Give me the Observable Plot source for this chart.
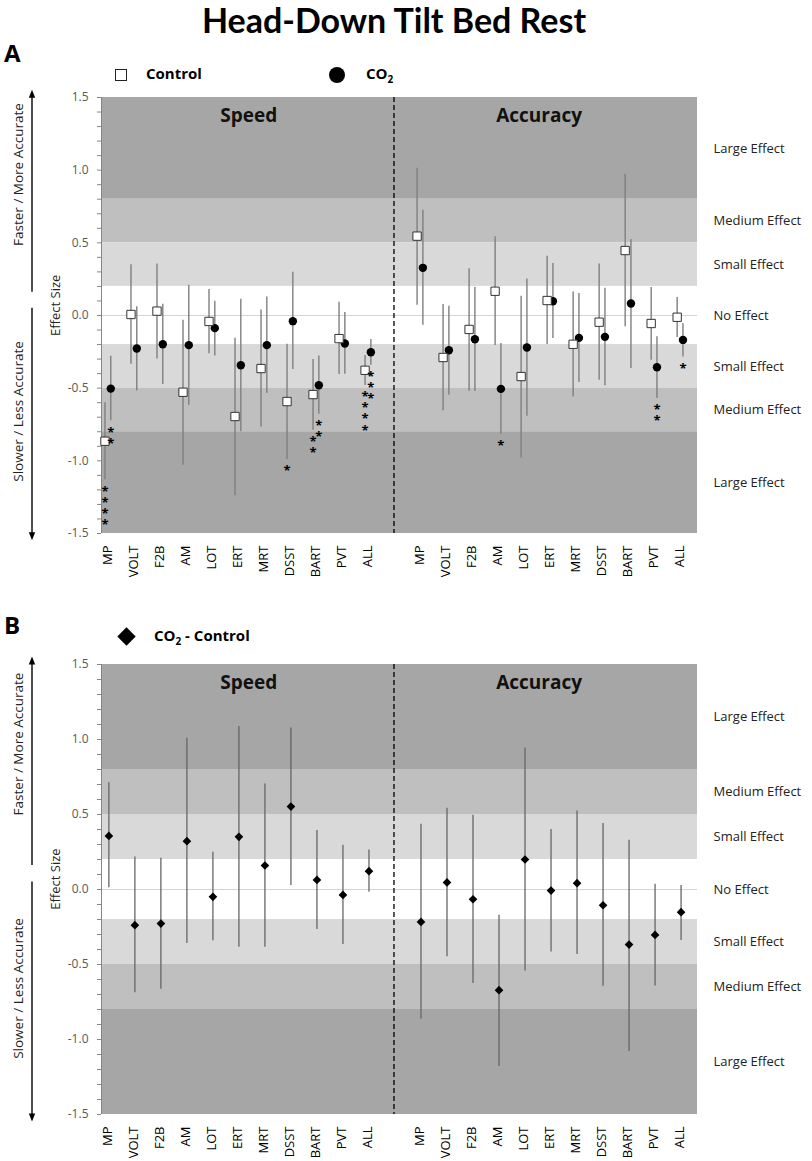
<!DOCTYPE html>
<html><head><meta charset="utf-8">
<script src="https://cdn.jsdelivr.net/npm/d3@7"></script>
<script src="https://cdn.jsdelivr.net/npm/@observablehq/plot@0.6"></script>
<style>
body{margin:0;background:#fff;font-family:"Open Sans",sans-serif;color:#000;}
#wrap{position:relative;width:812px;height:1161px;overflow:hidden;}
.abs{position:absolute;white-space:nowrap;line-height:1;}
.panel{position:absolute;left:0;}
.title{left:-12px;width:812px;text-align:center;top:3px;font-family:Lato,sans-serif;font-weight:700;font-size:34px;}
.letter{font-family:"Open Sans",sans-serif;font-weight:700;font-size:24px;}
.leg{font-weight:700;font-size:15px;}
</style></head><body><div id="wrap">
<div class="abs title">Head-Down Tilt Bed Rest</div>
<div class="abs letter" style="left:4px;top:41px">A</div>
<div class="abs letter" style="left:4px;top:613px">B</div>
<div class="abs" style="left:115px;top:69px;width:10px;height:10px;border:1.3px solid #222;background:#fff"></div>
<div class="abs leg" style="left:146px;top:66px">Control</div>
<div class="abs" style="left:329px;top:67px;width:16px;height:16px;border-radius:50%;background:#000"></div>
<div class="abs leg" style="left:366px;top:66px">CO<sub style="font-size:10px">2</sub></div>
<div class="abs" style="left:120px;top:630px;width:13px;height:13px;background:#000;transform:rotate(45deg)"></div>
<div class="abs leg" style="left:154px;top:628px">CO<sub style="font-size:10px">2</sub> - Control</div>
</div>
<script>
// ---- categories ----
const tests = ["MP","VOLT","F2B","AM","LOT","ERT","MRT","DSST","BART","PVT","ALL"];
const sections = ["Speed","Accuracy"];
const accOffset = 12; // accuracy categories start after one empty slot

// ---- effect-size bands ----
const bandFrom = [1.5, 0.8, 0.5, 0.2, -0.2, -0.5, -0.8];
const bandTo   = [0.8, 0.5, 0.2, -0.2, -0.5, -0.8, -1.5];
const bandLabels = ["Large Effect","Medium Effect","Small Effect","No Effect","Small Effect","Medium Effect","Large Effect"];
const bandLevel  = ["large","medium","small","none","small","medium","large"];

// ---- axis ticks ----
const yTicks = [-1.5, -1.0, -0.5, 0.0, 0.5, 1.0, 1.5];
const yMinorTicks = d3.range(-15, 16).map(d => d / 10);

// ---- Panel A: Control (speed) ----
const ctrlSpeedMean = [-0.865, 0.007, 0.03, -0.528, -0.041, -0.695, -0.365, -0.592, -0.544, -0.159, -0.377];
const ctrlSpeedHi   = [-0.60, 0.35, 0.355, -0.032, 0.179, -0.156, 0.037, -0.198, -0.303, 0.092, -0.275];
const ctrlSpeedLo   = [-1.13, -0.335, -0.30, -1.03, -0.264, -1.24, -0.767, -0.99, -0.79, -0.406, -0.482];
const ctrlSpeedStars = [4, 0, 0, 0, 0, 0, 0, 1, 2, 0, 4];
// ---- Panel A: CO2 (speed) ----
const co2SpeedMean = [-0.503, -0.227, -0.198, -0.204, -0.087, -0.342, -0.204, -0.039, -0.48, -0.193, -0.253];
const co2SpeedHi   = [-0.28, 0.06, 0.078, 0.208, 0.098, 0.112, 0.128, 0.298, -0.278, 0.021, -0.165];
const co2SpeedLo   = [-0.725, -0.52, -0.475, -0.62, -0.278, -0.80, -0.537, -0.372, -0.68, -0.404, -0.342];
const co2SpeedStars = [2, 0, 0, 0, 0, 0, 0, 0, 2, 0, 3];
// ---- Panel A: Control (accuracy) ----
const ctrlAccMean = [0.546, -0.289, -0.096, 0.167, -0.42, 0.103, -0.198, -0.046, 0.447, -0.055, -0.012];
const ctrlAccHi   = [1.014, 0.076, 0.321, 0.541, 0.133, 0.408, 0.162, 0.355, 0.97, 0.193, 0.124];
const ctrlAccLo   = [0.071, -0.656, -0.521, -0.207, -0.98, -0.2, -0.56, -0.445, -0.078, -0.308, -0.151];
const ctrlAccStars = [0, 0, 0, 0, 0, 0, 0, 0, 0, 0, 0];
// ---- Panel A: CO2 (accuracy) ----
const co2AccMean = [0.328, -0.239, -0.163, -0.505, -0.22, 0.098, -0.154, -0.147, 0.083, -0.356, -0.168];
const co2AccHi   = [0.725, 0.064, 0.193, -0.193, 0.252, 0.358, 0.151, 0.188, 0.523, -0.147, -0.055];
const co2AccLo   = [-0.067, -0.548, -0.523, -0.817, -0.693, -0.158, -0.461, -0.484, -0.365, -0.571, -0.285];
const co2AccStars = [0, 0, 0, 1, 0, 0, 0, 0, 0, 2, 1];

// ---- Panel B: CO2 - Control ----
const diffSpeedMean = [0.357, -0.238, -0.227, 0.322, -0.049, 0.351, 0.16, 0.553, 0.064, -0.036, 0.122];
const diffSpeedHi   = [0.711, 0.217, 0.209, 1.009, 0.249, 1.087, 0.704, 1.077, 0.393, 0.295, 0.264];
const diffSpeedLo   = [0.011, -0.689, -0.665, -0.36, -0.342, -0.385, -0.385, 0.027, -0.267, -0.367, -0.018];
const diffAccMean = [-0.216, 0.047, -0.065, -0.671, 0.2, -0.007, 0.042, -0.105, -0.367, -0.303, -0.151];
const diffAccHi   = [0.435, 0.542, 0.495, -0.171, 0.944, 0.4, 0.524, 0.44, 0.329, 0.035, 0.027];
const diffAccLo   = [-0.865, -0.449, -0.627, -1.18, -0.543, -0.416, -0.434, -0.645, -1.08, -0.643, -0.34];

// ---- side annotations ----
const sideArrows = [{from: 0.16, to: 1.55}, {from: 0.05, to: -1.55}];
const sideTexts = [{text: "Faster / More Accurate", y: 0.97}, {text: "Slower / Less Accurate", y: -0.66}];

// ---- build tables ----
function rows(mean, lo, hi, stars, offset) {
  return mean.map((m, i) => ({x: i + offset, test: tests[i], m, lo: lo[i], hi: hi[i], stars: stars ? stars[i] : 0}));
}
const ctrlRows = [...rows(ctrlSpeedMean, ctrlSpeedLo, ctrlSpeedHi, ctrlSpeedStars, 0), ...rows(ctrlAccMean, ctrlAccLo, ctrlAccHi, ctrlAccStars, accOffset)];
const co2Rows = [...rows(co2SpeedMean, co2SpeedLo, co2SpeedHi, co2SpeedStars, 0), ...rows(co2AccMean, co2AccLo, co2AccHi, co2AccStars, accOffset)];
const diffRows = [...rows(diffSpeedMean, diffSpeedLo, diffSpeedHi, null, 0), ...rows(diffAccMean, diffAccLo, diffAccHi, null, accOffset)];
const bands = bandFrom.map((f, i) => ({from: f, to: bandTo[i], label: bandLabels[i], level: bandLevel[i], mid: (f + bandTo[i]) / 2}));
const tickPos = [...tests.map((t, i) => i), ...tests.map((t, i) => i + accOffset)];
const tickName = new Map([...tests.map((t, i) => [i, t]), ...tests.map((t, i) => [i + accOffset, t])]);
const divider = tests.length; // dashed line at the empty slot
const sectionRows = sections.map((s, i) => ({name: s, side: i === 0 ? -1 : 1}));

const OFF = 2.9;
const xDomain = [-0.245, 22.67];

function arrowMark(index, scales, values, dims) {
  const g = d3.create("svg:g");
  const x = dims.marginLeft - 69;
  for (const a of sideArrows) {
    const y1 = scales.y(a.from), y2 = scales.y(a.to);
    const dir = Math.sign(y2 - y1);
    g.append("line").attr("x1", x).attr("x2", x).attr("y1", y1).attr("y2", y2 - dir * 5)
      .attr("stroke", "#000").attr("stroke-width", 1.4);
    g.append("path").attr("fill", "#000")
      .attr("d", `M${x},${y2}L${x - 3.2},${y2 - dir * 8}L${x + 3.2},${y2 - dir * 8}Z`);
  }
  return g.node();
}

// one stacked text per significant point: "*" repeated on separate lines below the whisker
function starMark(data, dx) {
  return Plot.text(data.filter(d => d.stars > 0), {
    x: "x", y: "lo", dx, dy: 8, text: d => Array(d.stars).fill("*").join("\n"),
    lineAnchor: "top", lineHeight: 0.85, fontSize: 13, fontWeight: 700, fill: "#000"
  });
}

function makePanel(height, marginTop, marginBottom, dataMarks) {
  return Plot.plot({
    width: 812, height, marginLeft: 101, marginRight: 115, marginTop, marginBottom,
    style: {fontFamily: "'Open Sans', sans-serif", fontSize: "12px", background: "transparent", overflow: "visible"},
    x: {type: "linear", domain: xDomain, label: null},
    y: {domain: [-1.5, 1.5], label: null},
    color: {domain: ["large", "medium", "small", "none"], range: ["#a6a6a6", "#bfbfbf", "#d9d9d9", "#ffffff"]},
    marks: [
      Plot.rect(bands, {y1: "from", y2: "to", fill: "level"}),
      Plot.ruleY([0], {stroke: "#d4d4d4", strokeWidth: 1}),
      Plot.ruleX([divider], {stroke: "#000", strokeWidth: 1.3, strokeDasharray: "5,3"}),
      Plot.ruleX([xDomain[0]], {stroke: "#868686", strokeWidth: 1}),
      Plot.axisY(yMinorTicks, {tickSize: 4, tickFormat: () => "", stroke: "#868686", label: null}),
      Plot.axisY(yTicks, {tickSize: 0, tickPadding: 13, tickFormat: d => d.toFixed(1), fill: "#595959", fontSize: 12, label: null}),
      Plot.axisX(tickPos, {tickSize: 0, tickPadding: 12, tickRotate: -90, tickFormat: d => tickName.get(d), fontSize: 13, fill: "#000", label: null}),
      Plot.text(bands, {y: "mid", text: "label", frameAnchor: "right", textAnchor: "start", dx: 16, fontSize: 13, fill: "#222"}),
      Plot.text(sectionRows, {x: d => divider + d.side * 5.58, text: "name", frameAnchor: "top", lineAnchor: "middle", dy: 18, fontSize: 19, fontWeight: 700, fill: "#111"}),
      Plot.text(["Effect Size"], {frameAnchor: "left", y: () => 0.07, dx: -46, rotate: -90, textAnchor: "middle", fontSize: 13, fill: "#222"}),
      Plot.text(sideTexts, {frameAnchor: "left", y: "y", text: "text", dx: -83, rotate: -90, textAnchor: "middle", fontSize: 13.5, fill: "#222"}),
      arrowMark,
      ...dataMarks
    ]
  });
}

const panelA = makePanel(510, 17, 57, [
  Plot.ruleX(ctrlRows, {x: "x", y1: "lo", y2: "hi", dx: -OFF, stroke: "#7f7f7f", strokeWidth: 1.4}),
  Plot.ruleX(co2Rows, {x: "x", y1: "lo", y2: "hi", dx: OFF, stroke: "#7f7f7f", strokeWidth: 1.4}),
  Plot.dot(co2Rows, {x: "x", y: "m", dx: OFF, r: 4.2, fill: "#000", stroke: "none"}),
  Plot.dot(ctrlRows, {x: "x", y: "m", dx: -OFF, r: 4.7, symbol: "square", fill: "#fff", stroke: "#333", strokeWidth: 1}),
  starMark(ctrlRows, -OFF),
  starMark(co2Rows, OFF)
]);
const panelB = makePanel(511, 14, 47, [
  Plot.ruleX(diffRows, {x: "x", y1: "lo", y2: "hi", dx: 1, stroke: "#666", strokeWidth: 1.3}),
  Plot.dot(diffRows, {x: "x", y: "m", dx: 1, r: 3.9, symbol: "diamond2", fill: "#000", stroke: "none"})
]);

const wrap = document.getElementById("wrap");
panelA.classList.add("panel"); panelA.style.top = "80px";
panelB.classList.add("panel"); panelB.style.top = "650px";
wrap.prepend(panelB);
wrap.prepend(panelA);
</script>
</body></html>
